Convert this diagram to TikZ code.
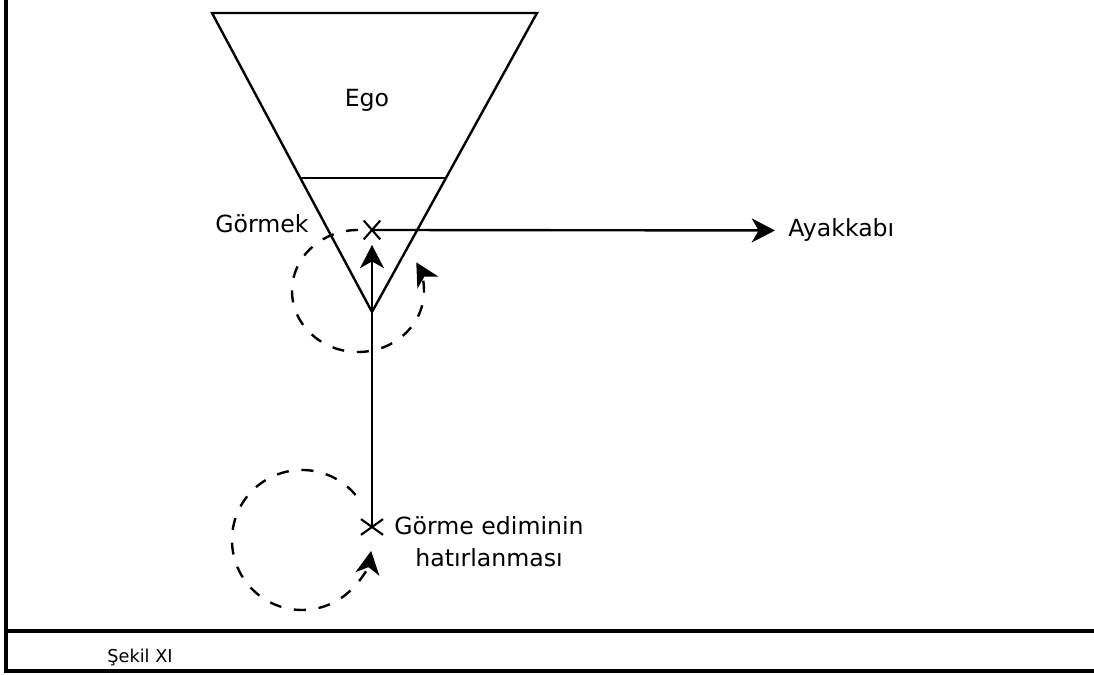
\documentclass[tikz,border=0pt]{standalone}
\usepackage{fontspec}
\setmainfont{DejaVu Sans}
\usetikzlibrary{arrows.meta,shapes.misc,calc}
\tikzset{
    trait/.style={line width=1.7pt},
    cadre/.style={line width=2.3pt},
    fleche/.style={-{Stealth[length=0.58cm,width=0.6cm,inset=0.17cm]}},
    pointille/.style={trait,dash pattern=on 0.3cm off 0.32cm},
    croix/.style={cross out,draw,line width=1.5pt,minimum width=0.36cm,minimum height=0.42cm,inner sep=0pt},
    etiquette/.style={font=\fontsize{16.8}{22}\selectfont,inner sep=0pt},
}
\begin{document}
\begin{tikzpicture}[x=0.025cm,y=0.025cm]
    \useasboundingbox (0,0) rectangle (1094,675);
    % Cadre et legende
    \draw[cadre] (6,675) -- (6,4) -- (1094,4);
    \draw[cadre] (6,44) -- (1094,44);
    \node[font=\fontsize{12.6}{15}\selectfont,inner sep=0pt,anchor=base] (legende) at (140,12) {Şekil XI};
    % Triangle (Ego)
    \coordinate (hg) at (212,662);
    \coordinate (hd) at (537,662);
    \coordinate (sommet) at (372,363);
    \draw[trait,line join=miter] (hg) -- (hd) -- (sommet) -- cycle;
    \draw[trait] ($(hg)!0.552!(sommet)$) -- ($(hd)!0.552!(sommet)$); % ligne interieure
    \node[etiquette,anchor=base] (ego) at (367,568) {Ego};
    \node[etiquette,anchor=base] (gormek) at (262,442) {Görmek};
    % Croix et fleches
    \node[croix] (haut) at (372,445) {};
    \node[croix,minimum width=0.5cm,minimum height=0.34cm] (bas) at (372,148) {};
    \node[etiquette,anchor=base west] (ayak) at (788,438) {Ayakkabı};
    \node[etiquette,anchor=base] (gorme) at (489,140) {Görme ediminin};
    \node[etiquette,anchor=base] (hatir) at (489,108) {hatırlanması};
    \draw[trait,fleche,shorten >=0.325cm] (haut.center) -- (ayak.west);
    \draw[trait,fleche,shorten >=0.375cm] (bas.center) -- (haut.center);
    % Cercles pointilles
    \coordinate (debut1) at (358,445);
    \draw[pointille,fleche] (debut1) arc[start angle=90,end angle=388,x radius=66,y radius=61];
    \coordinate (debut2) at (355.6,180);
    \draw[pointille,fleche] (debut2) arc[start angle=40,end angle=351,radius=70];
\end{tikzpicture}
\end{document}
